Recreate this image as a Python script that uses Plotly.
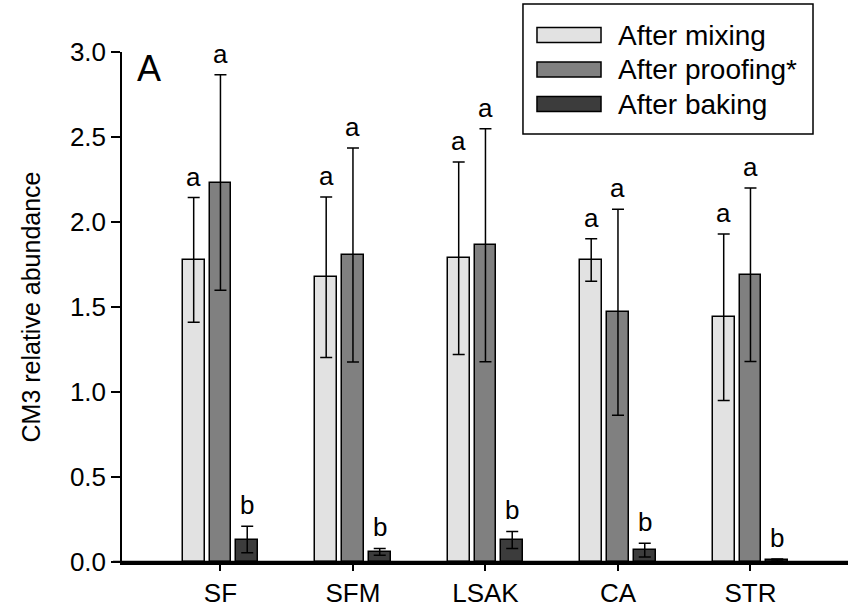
import plotly.graph_objects as go

categories = ["SF", "SFM", "LSAK", "CA", "STR"]
series_names = ["After mixing", "After proofing*", "After baking"]
mixing = [1.777, 1.675, 1.787, 1.777, 1.44]
mixing_err = [0.367, 0.472, 0.566, 0.125, 0.49]
proofing = [2.232, 1.806, 1.863, 1.469, 1.69]
proofing_err = [0.634, 0.629, 0.685, 0.606, 0.51]
baking = [0.132, 0.06, 0.13, 0.07, 0.012]
baking_err = [0.078, 0.02, 0.05, 0.04, 0.006]
letters_mixing = ["a", "a", "a", "a", "a"]
letters_proofing = ["a", "a", "a", "a", "a"]
letters_baking = ["b", "b", "b", "b", "b"]
y_ticks = [0.0, 0.5, 1.0, 1.5, 2.0, 2.5, 3.0]

colors = ["#e2e2e2", "#808080", "#3c3c3c"]
offsets = [-0.202, 0.0, 0.202]
values = [mixing, proofing, baking]
errors = [mixing_err, proofing_err, baking_err]
letters = [letters_mixing, letters_proofing, letters_baking]

font = "Liberation Sans, Arial, sans-serif"
fig = go.Figure()
base_x = list(range(len(categories)))
for name, vals, errs, col, off in zip(series_names, values, errors, colors, offsets):
    fig.add_trace(go.Bar(
        x=[b + off for b in base_x], y=vals, name=name, width=0.164,
        marker=dict(color=col, line=dict(color="black", width=1.5)),
        error_y=dict(type="data", array=errs, color="black", thickness=1.5, width=6),
        showlegend=False,
    ))

for vals, errs, labs, off in zip(values, errors, letters, offsets):
    for b, v, e, t in zip(base_x, vals, errs, labs):
        fig.add_annotation(x=b + off, y=v + e, text=t, showarrow=False,
                           yanchor="bottom", yshift=4,
                           font=dict(size=26, color="black", family=font))

fig.add_annotation(x=0.018, y=1.0, xref="paper", yref="paper", text="A",
                   showarrow=False, xanchor="left", yanchor="top", yshift=6,
                   font=dict(size=36, color="black", family=font))

# baseline extends slightly left of the y axis
fig.add_shape(type="line", xref="paper", yref="y", x0=-0.0124, x1=1, y0=0, y1=0,
              line=dict(color="black", width=2.5), layer="above")

# custom legend box (paper coordinates)
fig.add_shape(type="rect", xref="paper", yref="paper",
              x0=0.5523, x1=0.9518, y0=0.8392, y1=1.0941,
              line=dict(color="black", width=1.5), fillcolor="white", layer="above")
row_y = [1.0333, 0.9657, 0.898]
for name, col, ry in zip(series_names, colors, row_y):
    fig.add_shape(type="rect", xref="paper", yref="paper",
                  x0=0.5716, x1=0.6598, y0=ry - 0.0147, y1=ry + 0.0147,
                  line=dict(color="black", width=1.5), fillcolor=col, layer="above")
    fig.add_annotation(x=0.6804, y=ry, xref="paper", yref="paper", text=name,
                       showarrow=False, xanchor="left", yanchor="middle",
                       font=dict(size=28, color="black", family=font))

fig.update_layout(
    width=848, height=613,
    margin=dict(l=122, r=0, t=52, b=51),
    paper_bgcolor="white", plot_bgcolor="white",
    barmode="overlay", bargap=0,
    font=dict(family=font, color="black"),
    showlegend=False,
    xaxis=dict(range=[-0.743, 4.736], tickvals=base_x, ticktext=categories,
               showline=True, linecolor="black", linewidth=2.5,
               ticks="outside", ticklen=6, tickcolor="black", tickwidth=1.5,
               showgrid=False, zeroline=False,
               tickfont=dict(size=26, family=font)),
    yaxis=dict(range=[0, 3.0], tickvals=y_ticks,
               ticktext=[f"{v:.1f}" for v in y_ticks],
               showline=True, linecolor="black", linewidth=1.5,
               ticks="outside", ticklen=9, tickcolor="black", tickwidth=1.5,
               showgrid=False, zeroline=False,
               tickfont=dict(size=26, family=font),
               title=dict(text="CM3 relative abundance", font=dict(size=25, family=font), standoff=22)),
)

fig.write_html("out.html")
